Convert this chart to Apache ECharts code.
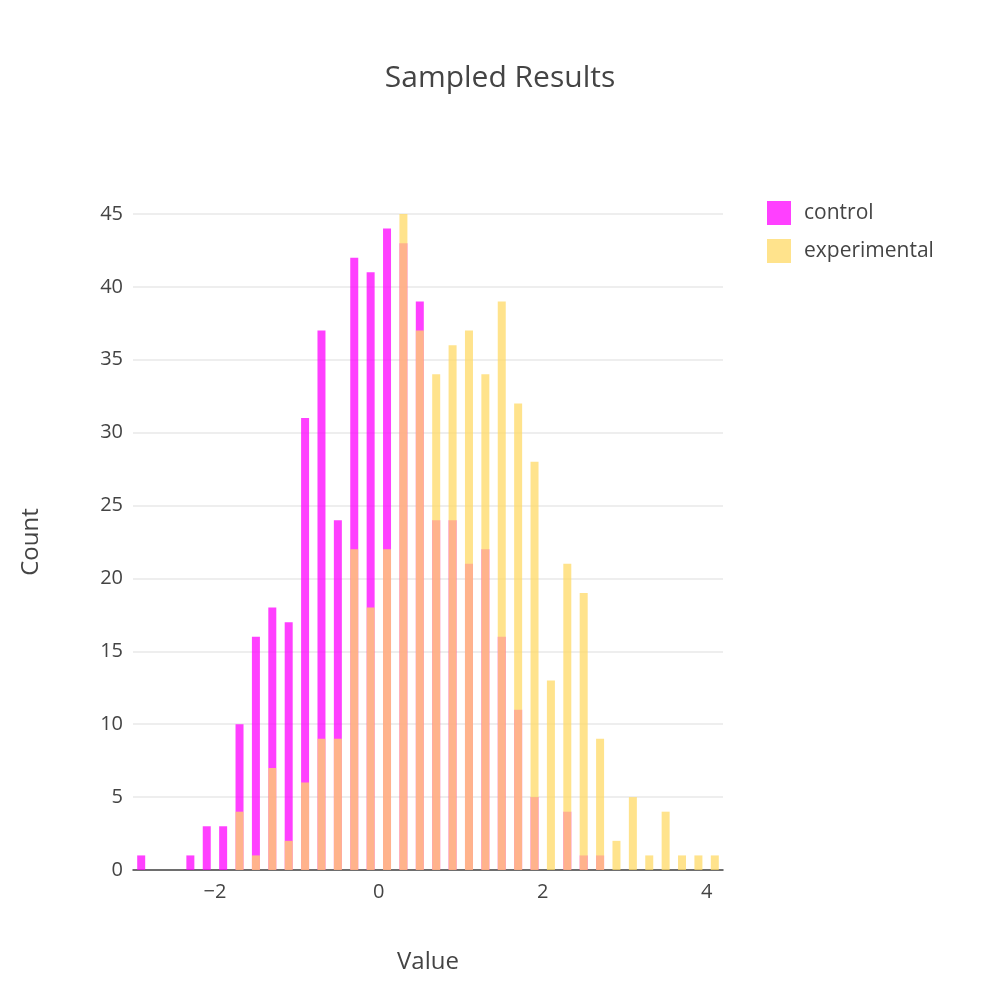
<!DOCTYPE html>
<html>
<head>
<meta charset="utf-8">
<script src="https://cdn.jsdelivr.net/npm/echarts@6/dist/echarts.min.js"></script>
<style>html,body{margin:0;padding:0;background:#fff}#chart{width:1000px;height:1000px}</style>
</head>
<body>
<div id="chart"></div>
<script>
// bin centres (bin width 0.2, from -3 to 4.2)
var binCenters = [-2.9,-2.7,-2.5,-2.3,-2.1,-1.9,-1.7,-1.5,-1.3,-1.1,-0.9,-0.7,-0.5,-0.3,-0.1,
  0.1,0.3,0.5,0.7,0.9,1.1,1.3,1.5,1.7,1.9,2.1,2.3,2.5,2.7,2.9,3.1,3.3,3.5,3.7,3.9,4.1];
var controlCounts = [1,0,0,1,3,3,10,16,18,17,31,37,24,42,41,
  44,43,39,24,24,21,22,16,11,5,0,4,1,1,0,0,0,0,0,0,0];
var experimentalCounts = [0,0,0,0,0,0,4,1,7,2,6,9,9,22,18,
  22,45,37,34,36,37,34,39,32,28,13,21,19,9,2,5,1,4,1,1,1];
var xTicks = [-2, 0, 2, 4];

function pairs(vals) {
  var out = [];
  for (var i = 0; i < binCenters.length; i++) {
    if (vals[i] > 0) out.push([binCenters[i], vals[i]]);
  }
  return out;
}

var c = echarts.init(document.getElementById("chart"));
var font = "Open Sans, Liberation Sans, sans-serif";
var m = {
  animation: false,
  textStyle: { fontFamily: font },
  title: {
    text: "Sampled Results", left: "center", top: 58,
    textStyle: { fontSize: 30, fontWeight: "normal", color: "#444", fontFamily: font }
  },
  legend: {
    left: 762, top: 196, orient: "vertical", itemGap: 14,
    itemWidth: 24, itemHeight: 24, icon: "rect",
    textStyle: { fontSize: 21, color: "#444", padding: [0, 0, 0, 8] },
    data: ["control", "experimental"]
  },
  grid: { left: 133, right: 277, top: 214, bottom: 130 },
  xAxis: {
    type: "value", min: -3, max: 4.2,
    name: "Value", nameLocation: "middle", nameGap: 80,
    nameTextStyle: { fontSize: 24, color: "#444" },
    splitLine: { show: false },
    axisTick: { show: false },
    axisLine: { show: true, onZero: false, lineStyle: { color: "#444", width: 1.5 } },
    axisLabel: {
      customValues: xTicks, fontSize: 20, color: "#444", margin: 12,
      formatter: function (v) { return String(v).replace("-", "\u2212"); }
    }
  },
  yAxis: {
    type: "value", min: 0, max: 45, interval: 5,
    name: "Count", nameLocation: "middle", nameGap: 90,
    nameTextStyle: { fontSize: 24, color: "#444" },
    axisLine: { show: false }, axisTick: { show: false },
    axisLabel: { fontSize: 20, color: "#444", margin: 10 },
    splitLine: { lineStyle: { color: "#e8e8e8", width: 1.5 } }
  },
  series: [
    {
      name: "control", type: "bar", data: pairs(controlCounts),
      barWidth: 8, barGap: "-100%",
      itemStyle: { color: "rgba(255,0,255,0.75)" }
    },
    {
      name: "experimental", type: "bar", data: pairs(experimentalCounts),
      barWidth: 8, barGap: "-100%",
      itemStyle: { color: "rgba(255,217,102,0.75)" }
    }
  ]
};
c.setOption(m);
</script>
</body>
</html>
